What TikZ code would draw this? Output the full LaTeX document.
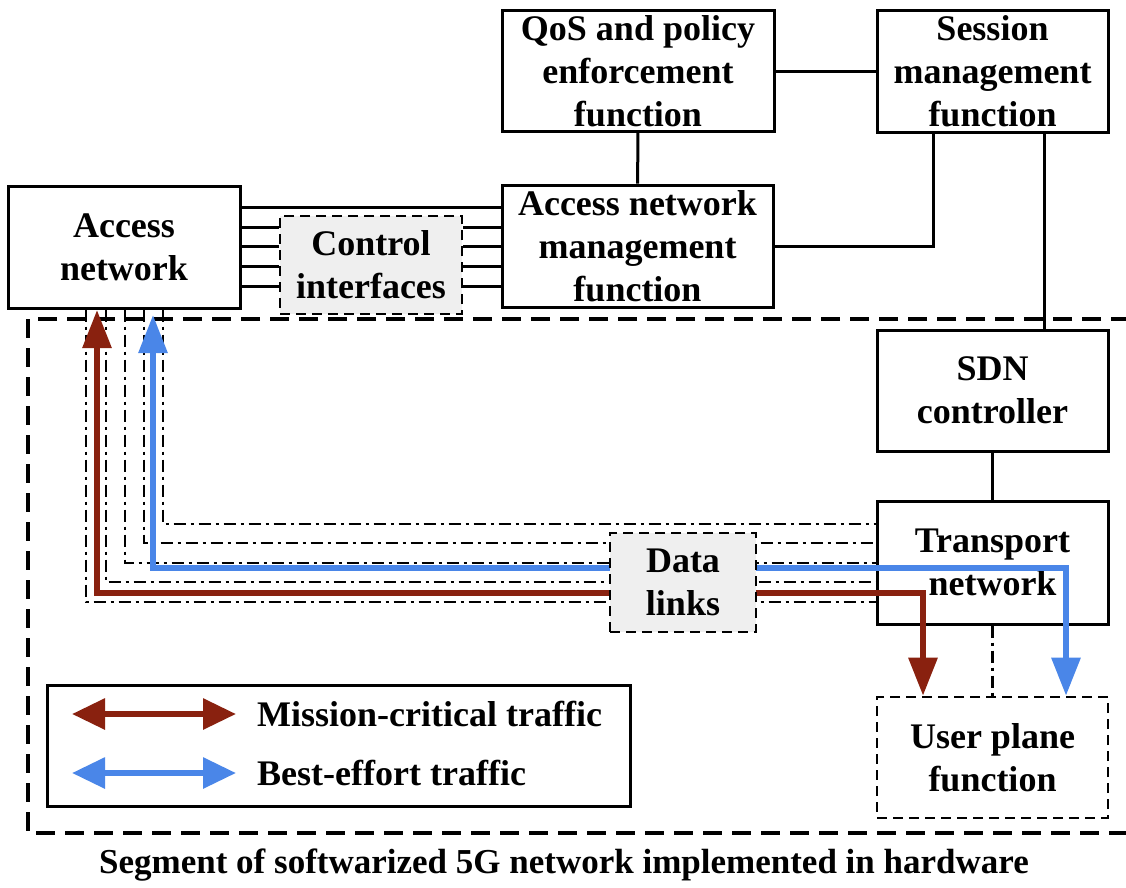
\documentclass[tikz,border=0pt]{standalone}
\usepackage{fontspec}
\setmainfont{Liberation Serif}
\usetikzlibrary{arrows.meta,backgrounds}
\definecolor{mcred}{RGB}{137,33,15}
\definecolor{beblue}{RGB}{74,134,232}
\definecolor{panelgray}{RGB}{239,239,239}

\begin{document}
\begin{tikzpicture}[x=1pt,y=-1pt,
  font=\fontsize{36}{43}\selectfont\bfseries,
  box/.style={draw, line width=3pt, inner sep=0pt, align=center, fill=white},
  dbox/.style={box, line width=2.6pt, dash pattern=on 10pt off 6pt},
  gbox/.style={dbox, fill=panelgray},
  link/.style={line width=3pt},
  datalink/.style={line width=2.8pt, dash pattern=on 12pt off 5pt on 3pt off 5pt},
  segment/.style={line width=4.5pt, dash pattern=on 19pt off 10pt},
  mcflow/.style={line width=6pt, color=mcred, {Triangle[length=38pt,width=28pt]}-{Triangle[length=38pt,width=28pt]}},
  beflow/.style={line width=6pt, color=beblue, {Triangle[length=38pt,width=28pt]}-{Triangle[length=38pt,width=28pt]}},
  mcleg/.style={line width=6pt, color=mcred, {Triangle[length=33pt,width=30pt]}-{Triangle[length=33pt,width=30pt]}},
  beleg/.style={line width=6pt, color=beblue, {Triangle[length=33pt,width=30pt]}-{Triangle[length=33pt,width=30pt]}},
]
\useasboundingbox (0,0) rectangle (1126,887);

% functional blocks
\node[box, minimum width=232pt, minimum height=122pt] (an) at (124,247) {Access\\network};
\node[gbox, minimum width=182pt, minimum height=98pt] (ci) at (371,265) {Control\\interfaces};
\node[box, minimum width=272pt, minimum height=121pt] (qos) at (638,71) {QoS and policy\\enforcement\\function};
\node[box, minimum width=231pt, minimum height=122pt] (smf) at (992.5,71) {Session\\management\\function};
\node[box, minimum width=271pt, minimum height=122pt] (anmf) at (637.5,246) {Access network\\management\\function};
\node[box, minimum width=231pt, minimum height=121pt] (sdn) at (992.5,390.5) {SDN\\controller};
\node[box, minimum width=231pt, minimum height=123pt] (tn) at (992.5,562.5) {Transport\\network};
\node[dbox, minimum width=231pt, minimum height=121pt] (upf) at (992.5,757.5) {User plane\\function};

% legend
\node[box, minimum width=583pt, minimum height=121pt] (legend) at (338.5,745.5) {};
\coordinate (mcL) at (72,714);
\coordinate (mcR) at (236,714);
\coordinate (beL) at (72,773);
\coordinate (beR) at (236,773);
\draw[mcleg] (mcL) -- (mcR);
\draw[beleg] (beL) -- (beR);
\node[anchor=west, inner sep=0pt] (mctxt) at (257,714) {Mission-critical traffic};
\node[anchor=west, inner sep=0pt] (betxt) at (257,773) {Best-effort traffic};

% caption
\node[font=\fontsize{35}{40}\selectfont\bfseries] (cap) at (564,865) {Segment of softwarized 5G network implemented in hardware};

\begin{scope}[on background layer]
  % hardware segment outline
  \draw[segment] (1130,319) -- (28,319) -- (28,833) -- (1130,833);

  % control plane links
  \draw[link] (qos.east |- 0,71) -- (smf.west |- 0,71);
  \draw[link] (qos) -- (anmf);
  \draw[link] (anmf.east) -| (933,0 |- smf.south);
  \draw[link] (1044,0 |- smf.south) -- (1044,0 |- sdn.north);
  \draw[link] (sdn) -- (tn);

  % control interfaces
  \draw[link] (an.east |- 0,207) -- (anmf.west |- 0,207);
  \foreach \yy in {227,246,266,286} {
    \draw[link] (an.east |- 0,\yy) -- (ci.west |- 0,\yy);
    \draw[link] (ci.east |- 0,\yy) -- (anmf.west |- 0,\yy);
  }

  % data links
  \draw[datalink] (163,0 |- an.south) |- (tn.west |- 0,524);
  \draw[datalink] (144,0 |- an.south) |- (tn.west |- 0,543);
  \draw[datalink] (125,0 |- an.south) |- (tn.west |- 0,563);
  \draw[datalink] (106,0 |- an.south) |- (tn.west |- 0,582);
  \draw[datalink] (86,0 |- an.south) |- (tn.west |- 0,602);
  \draw[datalink] (tn.south) -- (upf.north);
\end{scope}

% traffic flows, running over the transport network block
\coordinate (mcA) at (97,310);
\coordinate (beA) at (153,315);
\draw[mcflow] (mcA) |- (923,593) -- (923,0 |- upf.north);
\draw[beflow] (beA) |- (1066,568) -- (1066,0 |- upf.north);

% data link aggregation block, covering the links it bundles
\node[gbox, minimum width=146pt, minimum height=99pt] (dl) at (683,582.5) {Data\\links};
\end{tikzpicture}
\end{document}
